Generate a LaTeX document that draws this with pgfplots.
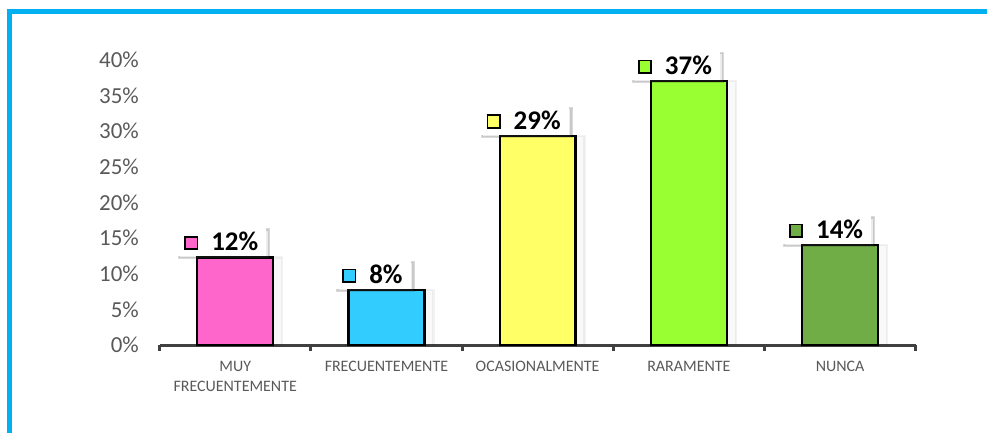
\documentclass[border=0pt]{standalone}
\usepackage{pgfplots}
\pgfplotsset{compat=1.18}
\usepackage{fontspec}
\setmainfont{Carlito}
\usetikzlibrary{shadows}
\definecolor{frame}{HTML}{00B0F0}
\definecolor{pinkc}{HTML}{FF66CC}
\definecolor{cyanc}{HTML}{33CCFF}
\definecolor{yellowc}{HTML}{FFFF66}
\definecolor{limec}{HTML}{99FF33}
\definecolor{greenc}{HTML}{70AD47}
\definecolor{axisc}{HTML}{404040}
\definecolor{txtc}{HTML}{595959}
\newcommand{\sq}[1]{\raisebox{3pt}{\setlength{\fboxrule}{1.8pt}\setlength{\fboxsep}{0pt}\fcolorbox{black}{#1}{\rule{0pt}{10.5pt}\rule{10.5pt}{0pt}}}\hspace{13pt}}
\begin{document}
\begin{tikzpicture}
\path (-160pt,-88pt) rectangle (829pt,346pt);
\draw[color=frame, line width=5pt] (-150pt,-88pt) -- (-150pt,334pt) -- (829pt,334pt);
\begin{axis}[
  at={(0pt,0pt)}, anchor=south west,
  scale only axis, width=758pt, height=286pt,
  xmin=-0.5, xmax=4.5, ymin=0, ymax=40,
  clip=false,
  axis x line*=bottom, axis y line*=left,
  y axis line style={draw=none},
  x axis line style={color=axisc, line width=3pt},
  ytick={0,5,...,40},
  yticklabel={\pgfmathprintnumber{\tick}\%},
  ytick style={draw=none},
  yticklabel style={font=\fontsize{23}{26}\selectfont, color=txtc, xshift=-13pt},
  /pgf/number format/assume math mode=true,
  xtick={0,1,2,3,4},
  xticklabels={{MUY\\FRECUENTEMENTE},FRECUENTEMENTE,OCASIONALMENTE,RARAMENTE,NUNCA},
  xticklabel style={font=\fontsize{16}{20.5}\selectfont, color=txtc, align=center, anchor=north, yshift=-8pt},
  major x tick style={draw=none},
  minor xtick={-0.5,0.5,...,4.5},
  minor x tick style={color=axisc, line width=3pt},
  minor tick length=6pt,
  tick align=outside,
  ybar, bar width=76pt,
  every node near coord/.append style={fill=white, anchor=south, inner xsep=8pt, inner ysep=5pt,
     drop shadow={shadow xshift=3pt, shadow yshift=-2pt, opacity=0.15},
     xshift=-14pt, yshift=0pt, font=\fontsize{27}{30}\selectfont\bfseries, text=black},
]
\addplot[bar shift=0pt, fill=pinkc, draw=black, line width=2.4pt, drop shadow={shadow xshift=9pt, shadow yshift=0pt, opacity=0.05},
  nodes near coords={\sq{pinkc}12\%}] coordinates {(0,12.3)};
\addplot[bar shift=0pt, fill=cyanc, draw=black, line width=2.4pt, drop shadow={shadow xshift=9pt, shadow yshift=0pt, opacity=0.05},
  nodes near coords={\sq{cyanc}8\%}] coordinates {(1,7.7)};
\addplot[bar shift=0pt, fill=yellowc, draw=black, line width=2.4pt, drop shadow={shadow xshift=9pt, shadow yshift=0pt, opacity=0.05},
  nodes near coords={\sq{yellowc}29\%}] coordinates {(2,29.3)};
\addplot[bar shift=0pt, fill=limec, draw=black, line width=2.4pt, drop shadow={shadow xshift=9pt, shadow yshift=0pt, opacity=0.05},
  nodes near coords={\sq{limec}37\%}] coordinates {(3,37)};
\addplot[bar shift=0pt, fill=greenc, draw=black, line width=2.4pt, drop shadow={shadow xshift=9pt, shadow yshift=0pt, opacity=0.05},
  nodes near coords={\sq{greenc}14\%}] coordinates {(4,14)};
\end{axis}
\end{tikzpicture}
\end{document}
